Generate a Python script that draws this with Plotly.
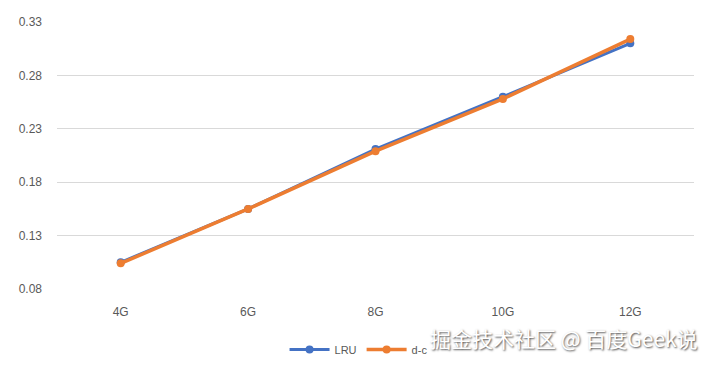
import plotly.graph_objects as go

categories = ["4G", "6G", "8G", "10G", "12G"]
lru_values = [0.105, 0.155, 0.211, 0.260, 0.310]
dc_values = [0.104, 0.155, 0.209, 0.258, 0.314]
y_ticks = [0.08, 0.13, 0.18, 0.23, 0.28, 0.33]
y_tick_labels = ["0.08", "0.13", "0.18", "0.23", "0.28", "0.33"]

BLUE = "#4472C4"
ORANGE = "#ED7D31"
GRAY = "#595959"

fig = go.Figure()
fig.add_trace(go.Scatter(
    x=categories, y=lru_values, name="LRU", mode="lines+markers",
    line=dict(color=BLUE, width=3), marker=dict(color=BLUE, size=8),
))
fig.add_trace(go.Scatter(
    x=categories, y=dc_values, name="d-c", mode="lines+markers",
    line=dict(color=ORANGE, width=3.5), marker=dict(color=ORANGE, size=8),
))

fig.update_layout(
    width=710, height=366,
    margin=dict(l=57, r=16, t=22, b=77, autoexpand=False),
    paper_bgcolor="white", plot_bgcolor="white",
    font=dict(family="Liberation Sans, Arial, sans-serif", size=12, color=GRAY),
    showlegend=True,
    legend=dict(orientation="h", xref="container", yref="container",
                x=0.505, xanchor="center", y=0.045, yanchor="middle",
                font=dict(size=11, color=GRAY), itemwidth=40),
    xaxis=dict(type="category", range=[-0.5, 4.5], showgrid=False, zeroline=False,
               showline=False, ticks="", ticklabelstandoff=14,
               tickfont=dict(size=12, color=GRAY)),
    yaxis=dict(range=[0.08, 0.33], tickvals=y_ticks, ticktext=y_tick_labels,
               showgrid=True, gridcolor="#D9D9D9", gridwidth=1, zeroline=False,
               showline=False, ticks="", ticklabelstandoff=14,
               tickfont=dict(size=12, color=GRAY)),
    annotations=[dict(
        text="掘金技术社区 @ 百度Geek说", xref="paper", yref="paper",
        x=1.01, y=-0.12, xanchor="right", yanchor="top", showarrow=False,
        font=dict(family="Noto Sans CJK SC", size=21, color="white",
                  shadow="1px 1px 2px rgba(0,0,0,0.7)"),
    )],
)

fig.write_html("out.html")
